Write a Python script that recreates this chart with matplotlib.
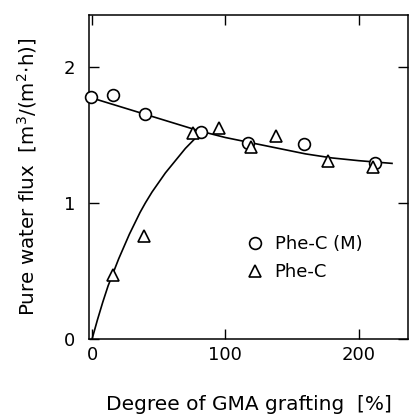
import matplotlib
matplotlib.use("Agg")
import matplotlib.pyplot as plt

# measured points
phe_cm_x = [-1, 16, 40, 82, 117, 159, 212]
phe_cm_y = [1.78, 1.79, 1.65, 1.52, 1.44, 1.43, 1.29]
phe_c_x = [16, 39, 76, 95, 119, 138, 177, 211]
phe_c_y = [0.47, 0.76, 1.51, 1.55, 1.41, 1.49, 1.31, 1.26]

# fitted curves
upper_x = [0, 20, 40, 60, 80, 100, 120, 140, 160, 180, 200, 225]
upper_y = [1.77, 1.71, 1.65, 1.59, 1.53, 1.48, 1.44, 1.40, 1.36, 1.33, 1.31, 1.29]
lower_x = [0, 4, 8, 12, 16, 20, 24, 28, 32, 36, 40, 45, 50, 55, 60, 65, 70, 75, 80, 85]
lower_y = [0, 0.14, 0.27, 0.39, 0.49, 0.59, 0.68, 0.77, 0.85, 0.93, 1.0,
           1.08, 1.15, 1.22, 1.28, 1.34, 1.40, 1.45, 1.50, 1.53]

plt.rcParams['font.family'] = 'DejaVu Sans'

fig = plt.figure(figsize=(4.09, 4.16), dpi=100)
ax = fig.add_axes([0.2176, 0.185, 0.78, 0.779])

ax.plot(upper_x, upper_y, color='black', lw=1.2)
ax.plot(lower_x, lower_y, color='black', lw=1.2)
ax.plot(phe_cm_x, phe_cm_y, 'o', ms=8.5, mfc='white', mec='black', mew=1.2,
        label='Phe-C (M)', zorder=3, clip_on=False)
ax.plot(phe_c_x, phe_c_y, '^', ms=8.5, mfc='white', mec='black', mew=1.2,
        label='Phe-C', zorder=3)

ax.set_xlim(-2.3, 237)
ax.set_ylim(0, 2.38)
ax.set_xticks([0, 100, 200])
ax.set_yticks([0, 1, 2])
ax.tick_params(direction='in', length=7, width=1, top=True, right=True,
               labelsize=13)
ax.tick_params(axis='y', pad=10)
ax.tick_params(axis='x', pad=5)
for s in ax.spines.values():
    s.set_linewidth(1.1)

ax.set_xlabel('Degree of GMA grafting  [%]', fontsize=14.5, labelpad=22)
ax.set_ylabel('Pure water flux  [m$^3$/(m$^2$$\\cdot$h)]', fontsize=14.3, labelpad=18)

ax.legend(loc='upper left', bbox_to_anchor=(0.44, 0.37), frameon=False,
          fontsize=13, handlelength=1.0, handletextpad=0.6, labelspacing=0.55)

fig.savefig('out.png', dpi=100)
